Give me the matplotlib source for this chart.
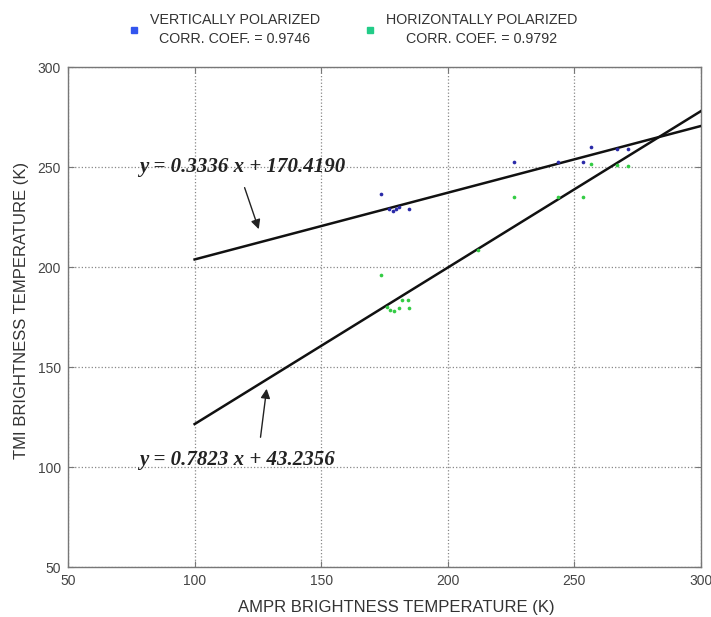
import matplotlib
matplotlib.use("Agg")
import matplotlib.pyplot as plt
from matplotlib.lines import Line2D
import numpy as np

plt.rcParams['font.family'] = ['Liberation Sans', 'DejaVu Sans']

# Vertically polarized samples (AMPR, TMI)
v_ampr = [173.8, 176.9, 178.2, 179.5, 180.8, 184.8, 226.1, 243.7, 253.6, 256.7, 266.8, 271.4]
v_tmi = [236.3, 229.0, 228.2, 228.8, 230.2, 229.0, 252.7, 252.7, 252.7, 260.2, 259.0, 258.8]
# Horizontally polarized samples (AMPR, TMI)
h_ampr = [173.8, 176.2, 177.1, 178.8, 180.6, 181.9, 184.5, 184.8, 211.9, 226.1, 243.7, 253.6, 256.7, 266.8, 271.4]
h_tmi = [196.0, 180.2, 178.5, 178.2, 179.3, 183.5, 183.5, 179.3, 208.5, 235.2, 234.8, 235.2, 251.3, 251.0, 250.6]

# Regression fits
v_slope, v_icpt = 0.3336, 170.4190
h_slope, h_icpt = 0.7823, 43.2356
fit_x = [100, 300]

v_label = "VERTICALLY POLARIZED\nCORR. COEF. = 0.9746"
h_label = "HORIZONTALLY POLARIZED\nCORR. COEF. = 0.9792"
x_ticks = [50, 100, 150, 200, 250, 300]
y_ticks = [50, 100, 150, 200, 250, 300]

fig = plt.figure(figsize=(7.11, 6.17), dpi=100)
ax = fig.add_axes([0.0957, 0.081, 0.89, 0.8104])

ax.set_xlim(50, 300)
ax.set_ylim(50, 300)
ax.set_xticks(x_ticks)
ax.set_yticks(y_ticks)
ax.grid(True, linestyle=':', color='#888888', linewidth=0.9)
ax.tick_params(direction='in', top=True, right=True, length=4, labelsize=10,
               labelcolor='#444444', color='#777777', pad=5)
for s in ax.spines.values():
    s.set_color('#777777')
    s.set_linewidth(1.0)

fx = np.array(fit_x, dtype=float)
ax.plot(fx, v_slope * fx + v_icpt, color='#111111', lw=1.8, zorder=3)
ax.plot(fx, h_slope * fx + h_icpt, color='#111111', lw=1.8, zorder=3)

ax.scatter(v_ampr, v_tmi, s=7, marker='o', color='#2a2aa8', zorder=4, linewidths=0)
ax.scatter(h_ampr, h_tmi, s=7, marker='o', color='#33cc44', zorder=4, linewidths=0)

ax.text(78, 250, "y = 0.3336 x + 170.4190", family='Liberation Serif',
        fontsize=15, fontweight='bold', fontstyle='italic', va='center', ha='left',
        color='#222222')
ax.annotate("", xy=(125.7, 217.6), xytext=(119.4, 241),
            arrowprops=dict(arrowstyle='-|>', color='#222222', lw=1.0,
                            mutation_scale=14))
ax.text(78, 103.5, "y = 0.7823 x + 43.2356", family='Liberation Serif',
        fontsize=15, fontweight='bold', fontstyle='italic', va='center', ha='left',
        color='#222222')
ax.annotate("", xy=(128.6, 140.5), xytext=(125.9, 113.5),
            arrowprops=dict(arrowstyle='-|>', color='#222222', lw=1.0,
                            mutation_scale=14))

ax.set_xlabel("AMPR BRIGHTNESS TEMPERATURE (K)", fontsize=12, color='#333333')
ax.set_ylabel("TMI BRIGHTNESS TEMPERATURE (K)", fontsize=12, color='#333333')
ax.xaxis.set_label_coords(0.518, -0.065)
ax.yaxis.set_label_coords(-0.061, 0.514)

handles = [Line2D([], [], marker='s', ls='', color='#3355ee', markersize=4.5),
           Line2D([], [], marker='s', ls='', color='#22cc88', markersize=4.5)]
leg = fig.legend(handles, [v_label, h_label], ncol=2, loc='upper center',
                 bbox_to_anchor=(0.495, 1.0), frameon=False, fontsize=10.3,
                 handletextpad=0.6, columnspacing=3.0, handlelength=1.0)
for t in leg.get_texts():
    t.set_multialignment('center')
    t.set_linespacing(1.45)
    t.set_color('#333333')

fig.savefig("out.png", dpi=100)
